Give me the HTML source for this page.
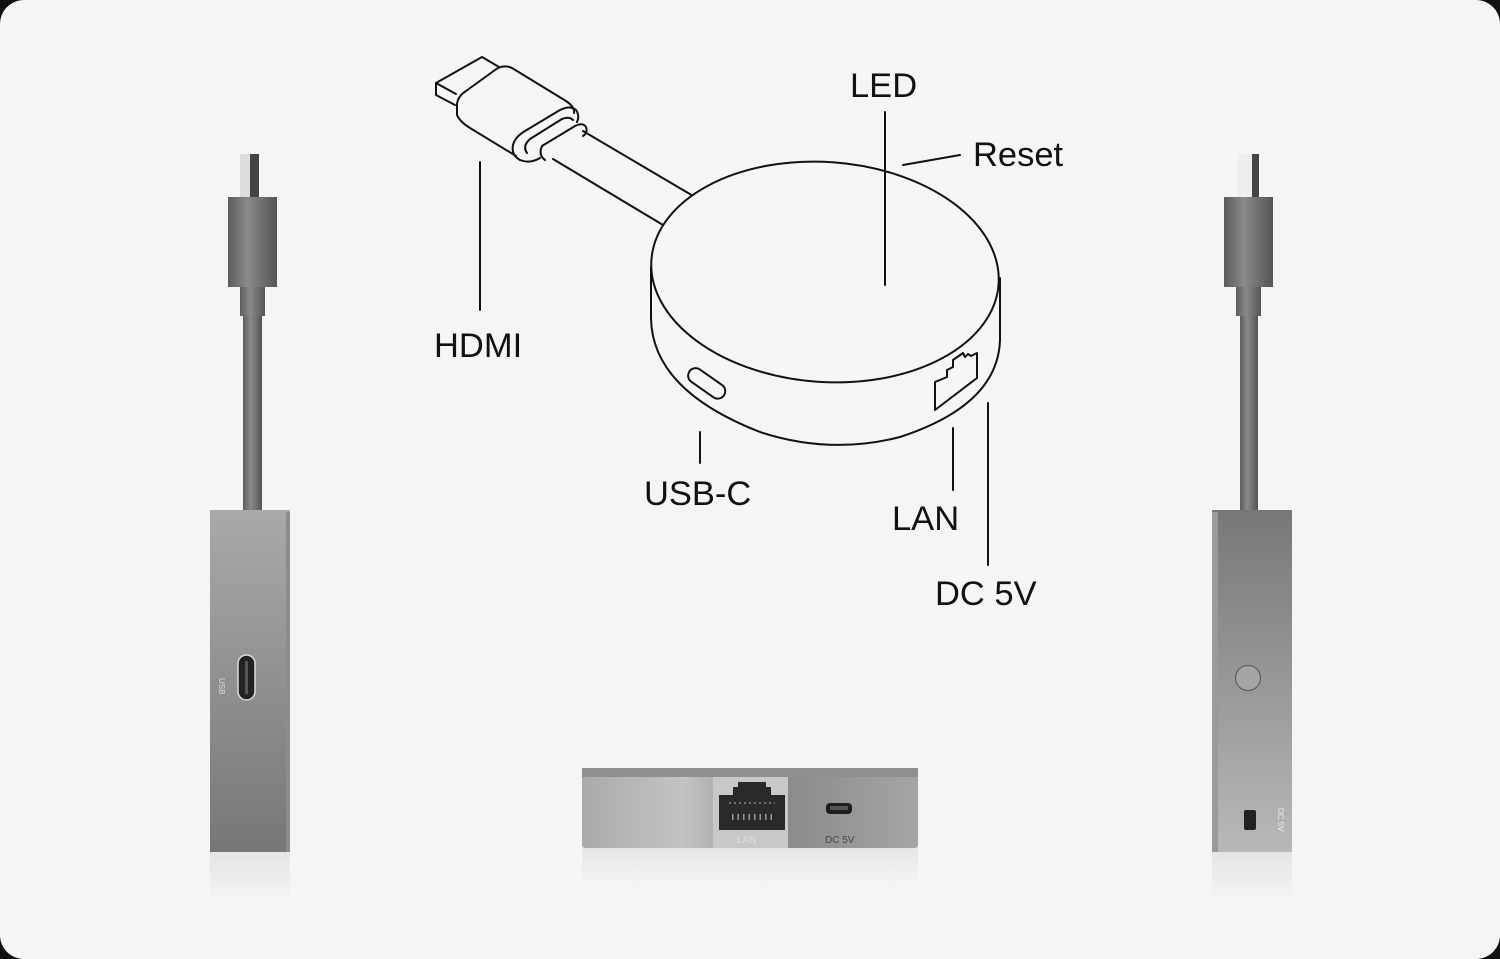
<!DOCTYPE html>
<html><head><meta charset="utf-8"><style>
html,body{margin:0;padding:0;background:#111;}
.card{position:absolute;left:0;top:0;width:1500px;height:959px;background:#f5f5f5;border-radius:24px;overflow:hidden}
svg{position:absolute;left:0;top:0}
text{font-family:"Liberation Sans",sans-serif;fill:#111}
</style></head><body><div class="card">
<svg width="1500" height="959" viewBox="0 0 1500 959">
<defs>
<linearGradient id="lb" x1="0" y1="0" x2="0" y2="1"><stop offset="0" stop-color="#a9a9a9"/><stop offset="1" stop-color="#777"/></linearGradient>
<linearGradient id="rb" x1="0" y1="0" x2="0" y2="1"><stop offset="0" stop-color="#777"/><stop offset="1" stop-color="#b8b8b8"/></linearGradient>
<linearGradient id="cab" x1="0" y1="0" x2="1" y2="0"><stop offset="0" stop-color="#5c5c5c"/><stop offset=".4" stop-color="#8a8a8a"/><stop offset="1" stop-color="#555"/></linearGradient>
<linearGradient id="bot" x1="0" y1="0" x2="1" y2="0"><stop offset="0" stop-color="#aaa"/><stop offset=".3" stop-color="#c3c3c3"/><stop offset=".6" stop-color="#8a8a8a"/><stop offset="1" stop-color="#a5a5a5"/></linearGradient>
<linearGradient id="ref" x1="0" y1="0" x2="0" y2="1"><stop offset="0" stop-color="#ddd"/><stop offset="1" stop-color="#f5f5f5"/></linearGradient>
</defs>

<!-- left device -->
<rect x="240" y="154" width="19" height="43" fill="#ddd"/><rect x="250" y="154" width="9" height="43" fill="#444"/>
<rect x="228" y="197" width="49" height="90" fill="url(#cab)"/>
<rect x="240" y="287" width="25" height="29" fill="url(#cab)"/>
<rect x="243" y="316" width="19" height="196" fill="url(#cab)"/>
<rect x="210" y="510" width="80" height="342" fill="url(#lb)"/>
<rect x="286" y="512" width="4" height="340" fill="#8c8c8c"/>
<rect x="210" y="852" width="80" height="50" fill="url(#ref)" opacity=".7"/>
<rect x="238" y="655" width="17" height="45" rx="8.5" fill="#222" stroke="#ddd" stroke-width="1.5"/>
<rect x="245" y="661" width="3" height="33" fill="#555"/>
<text x="219" y="678" font-size="8" style="fill:#ddd" transform="rotate(90 219 678)">USB</text>

<!-- right device -->
<rect x="1238" y="154" width="21" height="43" fill="#eee"/><rect x="1252" y="154" width="7" height="43" fill="#444"/>
<rect x="1224" y="197" width="49" height="90" fill="url(#cab)"/>
<rect x="1236" y="287" width="25" height="29" fill="url(#cab)"/>
<rect x="1240" y="316" width="18" height="196" fill="url(#cab)"/>
<rect x="1212" y="510" width="80" height="342" fill="url(#rb)"/>
<rect x="1212" y="512" width="6" height="340" fill="#9a9a9a"/>
<rect x="1212" y="852" width="80" height="50" fill="url(#ref)" opacity=".7"/>
<circle cx="1248" cy="678" r="12.5" fill="#a5a5a5" stroke="#555" stroke-width="1"/>
<circle cx="1282" cy="678" r="4" fill="none" stroke="#999" stroke-width="1"/>
<rect x="1244" y="810" width="12" height="20" rx="2" fill="#222"/>
<text x="1278" y="808" font-size="8" style="fill:#eee" transform="rotate(90 1278 808)">DC 5V</text>

<!-- bottom device -->
<rect x="582" y="768" width="336" height="80" rx="3" fill="url(#bot)"/>
<rect x="582" y="768" width="336" height="9" fill="#8f8f8f"/>
<rect x="713" y="777" width="75" height="71" fill="#c8c8c8"/>
<rect x="719" y="795" width="66" height="35" fill="#2a2a2a"/>
<rect x="733" y="787" width="38" height="9" fill="#2a2a2a"/>
<rect x="738" y="782" width="28" height="6" fill="#2a2a2a"/>
<line x1="729" y1="803" x2="775" y2="803" stroke="#888" stroke-width="1.5" stroke-dasharray="2 3"/>
<line x1="732" y1="817" x2="772" y2="817" stroke="#999" stroke-width="6" stroke-dasharray="1.5 4"/>
<text x="737" y="843" font-size="10" style="fill:#ddd">LAN</text>
<rect x="826" y="803" width="26" height="11" rx="4" fill="#1e1e1e"/>
<rect x="830" y="806" width="18" height="4" fill="#555"/>
<text x="825" y="843" font-size="10" style="fill:#444">DC 5V</text>
<rect x="582" y="848" width="336" height="40" fill="url(#ref)" opacity=".6"/>

<!-- line drawing -->
<g fill="none" stroke="#111" stroke-width="2" stroke-linejoin="round" stroke-linecap="round">
<line x1="583" y1="131" x2="700" y2="200"/>
<line x1="553" y1="159" x2="668" y2="228"/>
<path d="M436,83 L482,57 L499,67 M436,83 L436,95 L455,105 M436,83 L456,94"/>
<path d="M457,115 L457,104 Q458,96 466,91 L495,70 Q503,64 512,68 L566,101 Q575,107 574,113 M457,115 Q460,122 470,128 L516,156"/>
<path d="M520,160 Q511,155 513,145 Q515,137 525,131 L560,110 Q570,105 576,110 Q580,116 577,122"/>
<path d="M527,153 Q522,146 530,139 L562,119 Q569,116 573,120"/>
<path d="M545,160 Q538,155 542,146 L575,126 Q583,122 586,127 Q588,133 583,136"/>
<path d="M520,160 Q530,164 540,158"/>
<path d="M651,267 L651,318 Q652,390 760,432 Q830,455 900,437 Q998,405 1000,340 L1000,278"/>
<ellipse cx="825" cy="272" rx="174" ry="110" transform="rotate(4 825 272)" fill="#f5f5f5"/>
<rect x="686" y="376" width="42" height="15" rx="7.5" transform="rotate(35 707 383)"/>
<path d="M935,382 L935,410 L977,378 L977,353 L971,356 L968,354 L965,357 L963,353 L953,360 L953,367 L947,370 L947,377 Z"/>
<line x1="480" y1="162" x2="480" y2="310"/>
<line x1="885" y1="112" x2="885" y2="285"/>
<line x1="903" y1="165" x2="960" y2="155"/>
<line x1="700" y1="432" x2="700" y2="463"/>
<line x1="953" y1="428" x2="953" y2="490"/>
<line x1="988" y1="403" x2="988" y2="565"/>
</g>
<text x="850" y="97" font-size="34.5">LED</text>
<text x="973" y="166" font-size="34.5">Reset</text>
<text x="434" y="357" font-size="34.5">HDMI</text>
<text x="644" y="505" font-size="34.5">USB-C</text>
<text x="892" y="530" font-size="34.5">LAN</text>
<text x="935" y="605" font-size="34.5">DC 5V</text>
</svg></div></body></html>
